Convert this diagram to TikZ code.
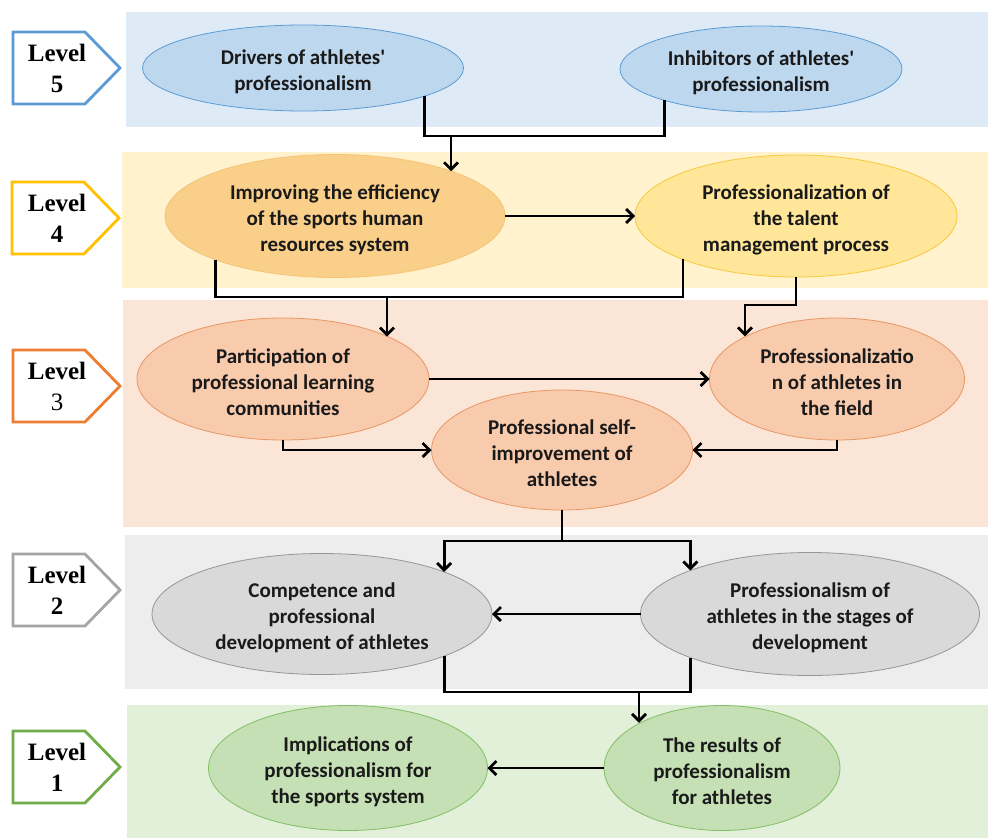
\documentclass[tikz,border=0pt]{standalone}
\usepackage{fontspec}
\setmainfont{Carlito}
\newfontfamily\lvlfont{Liberation Serif}
\usetikzlibrary{shapes.geometric,arrows.meta,calc}
\pgfdeclarelayer{bg}
\pgfsetlayers{bg,main}
\newcommand{\tstrut}{\rule{0pt}{22pt}}
\newcommand{\apos}{\textquotesingle}
\definecolor{txt}{RGB}{26,26,26}
\definecolor{bandA}{RGB}{222,235,247}
\definecolor{bandB}{RGB}{255,242,204}
\definecolor{bandC}{RGB}{251,229,214}
\definecolor{bandD}{RGB}{237,237,237}
\definecolor{bandE}{RGB}{226,240,217}
\definecolor{elA}{RGB}{189,215,238}
\definecolor{elAd}{RGB}{91,155,213}
\definecolor{elBo}{RGB}{249,207,137}
\definecolor{elBod}{RGB}{244,196,120}
\definecolor{elBy}{RGB}{255,230,153}
\definecolor{elByd}{RGB}{246,200,60}
\definecolor{elC}{RGB}{248,203,173}
\definecolor{elCd}{RGB}{232,150,100}
\definecolor{elD}{RGB}{217,217,217}
\definecolor{elDd}{RGB}{150,150,150}
\definecolor{elE}{RGB}{197,224,180}
\definecolor{elEd}{RGB}{130,190,100}
\definecolor{lvA}{RGB}{91,155,213}
\definecolor{lvB}{RGB}{255,192,0}
\definecolor{lvC}{RGB}{237,125,49}
\definecolor{lvD}{RGB}{165,165,165}
\definecolor{lvE}{RGB}{112,173,71}
\begin{document}
\begin{tikzpicture}[x=1pt,y=-1pt,
  el/.style={ellipse, inner sep=0pt, outer sep=0pt, line width=0.8pt,
    font=\bfseries\fontsize{21}{26}\selectfont, align=center, text=txt},
  conn/.style={line width=2.8pt, black},
  arr/.style={conn, -{Straight Barb[length=7pt,width=14pt]}},
  lvl/.style={line width=2.8pt, fill=white, line join=miter},
  lvltext/.style={font=\lvlfont\bfseries\fontsize{25}{31}\selectfont, align=center, inner sep=0pt, text=black},
]
\useasboundingbox (0,0) rectangle (988,838);
% bands
\begin{pgfonlayer}{bg}
\fill[white] (0,0) rectangle (988,838);
\fill[bandA] (126,12) rectangle (988,127);
\fill[bandB] (122,152) rectangle (988,288);
\fill[bandC] (123,300) rectangle (988,527);
\fill[bandD] (125,535) rectangle (988,689);
\fill[bandE] (127,705) rectangle (988,838);
\end{pgfonlayer}
% level tags
\draw[lvl, draw=lvA] (13,32) -- (85,32) -- (120,68) -- (85,104) -- (13,104) -- cycle;
\node[lvltext] (L5) at (57,68) {Level\\5};
\draw[lvl, draw=lvB] (12,182) -- (84,182) -- (119,218) -- (84,254) -- (12,254) -- cycle;
\node[lvltext] (L4) at (57,218) {Level\\4};
\draw[lvl, draw=lvC] (13,350) -- (85,350) -- (120,386) -- (85,422) -- (13,422) -- cycle;
\node[lvltext] (L3) at (57,386) {Level\\{\mdseries 3}};
\draw[lvl, draw=lvD] (13,554) -- (85,554) -- (120,590) -- (85,626) -- (13,626) -- cycle;
\node[lvltext] (L2) at (57,590) {Level\\2};
\draw[lvl, draw=lvE] (13,731) -- (85,731) -- (120,767) -- (85,803) -- (13,803) -- cycle;
\node[lvltext] (L1) at (57,767) {Level\\1};
% ellipses
\node[el, fill=elA, draw=elAd, minimum width=321pt, minimum height=86pt] (drv) at (303,68) {\tstrut Drivers of athletes\apos\\professionalism};
\node[el, fill=elA, draw=elAd, minimum width=282pt, minimum height=86pt] (inh) at (761,69) {\tstrut Inhibitors of athletes\apos\\professionalism};
\node[el, fill=elBo, draw=elBod, minimum width=340pt, minimum height=123pt] (imp) at (335,216) {\tstrut Improving the efficiency\\of the sports human\\resources system};
\node[el, fill=elBy, draw=elByd, minimum width=322pt, minimum height=122pt] (tal) at (796,216) {\tstrut Professionalization of\\the talent\\management process};
\node[el, fill=elC, draw=elCd, minimum width=292pt, minimum height=122pt] (par) at (283,379) {\tstrut Participation of\\professional learning\\communities};
\node[el, fill=elC, draw=elCd, minimum width=255pt, minimum height=122pt] (fld) at (837,379) {\tstrut Professionalizatio\\n of athletes in\\the field};
\node[el, fill=elC, draw=elCd, minimum width=261pt, minimum height=120pt] (slf) at (562,450) {\tstrut Professional self-\\improvement of\\athletes};
\node[el, fill=elD, draw=elDd, minimum width=340pt, minimum height=121pt] (cmp) at (322,614) {\tstrut Competence and\\professional\\development of athletes};
\node[el, fill=elD, draw=elDd, minimum width=339pt, minimum height=123pt] (stg) at (810,614) {\tstrut Professionalism of\\athletes in the stages of\\development};
\node[el, fill=elE, draw=elEd, minimum width=279pt, minimum height=125pt] (ipl) at (348,768) {\tstrut Implications of\\professionalism for\\the sports system};
\node[el, fill=elE, draw=elEd, minimum width=236pt, minimum height=125pt] (res) at (722,768) {\tstrut The results of\\professionalism\\for athletes};
% junction coordinates
\coordinate (j1) at (451,136);
\coordinate (j2) at (387,297);
\coordinate (j3) at (745,305);
\coordinate (j4) at (562,541);
\coordinate (j5) at (639,692);
% connectors
\draw[conn] (drv.-13.6) -- (drv.-13.6 |- j1) -- (inh.-162.8 |- j1) -- (inh.-162.8);
\draw[arr] (j1) -- (j1 |- imp.21.5);
\draw[arr] (imp.east) -- (tal.west);
\draw[conn] (imp.-160) -- (imp.-160 |- j2) -- (tal.-159.3 |- j2) -- (tal.-159.3);
\draw[arr] (j2) -- (j2 |- par.22.4);
\draw[arr] (tal.south) |- (j3) -- (j3 |- fld.155.4);
\draw[arr] (par.east) -- (fld.west);
\draw[arr] (par.south) |- (slf.west);
\draw[arr] (fld.south) |- (slf.east);
\draw[conn] (slf.south) -- (j4);
\draw[arr] (j4) -| (cmp.19.7);
\draw[arr] (j4) -| (stg.160.1);
\draw[arr] (stg.west) -- (cmp.east);
\draw[conn] (cmp.-19.7) -- (cmp.-19.7 |- j5) -- (stg.-160.1 |- j5) -- (stg.-160.1);
\draw[arr] (j5) -- (j5 |- res.151.9);
\draw[arr] (res.west) -- (ipl.east);
\end{tikzpicture}
\end{document}
